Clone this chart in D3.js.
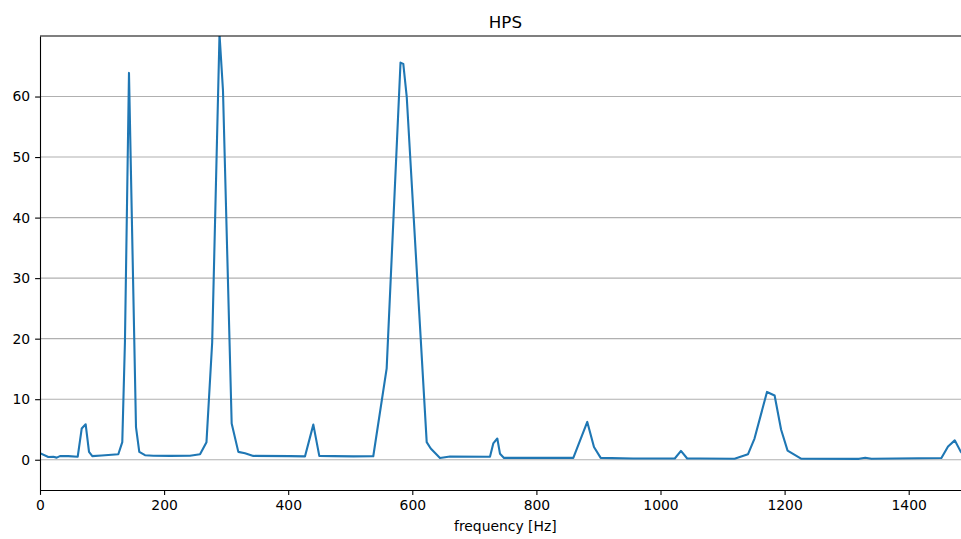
<!DOCTYPE html>
<html>
<head>
<meta charset="utf-8">
<script src="https://cdn.jsdelivr.net/npm/d3@7"></script>
<style>
  body { margin: 0; background: #fff; }
  svg { display: block; font-family: "DejaVu Sans", sans-serif; }
  .tick text { font-size: 13.9px; fill: #000; }
</style>
</head>
<body>
<div id="chart"></div>
<script>
// HPS curve
var freqs = [0, 13.4, 21.4, 26.9, 32.2, 45.6, 60.8, 67.2, 73.6, 79, 84.3, 99.4, 126.2, 132.6,
  136.9, 143.4, 154.7, 160, 169.2, 182.6, 209.5, 241.7, 257.9, 268.3, 277.5, 289.3, 294.9,
  308.9, 319.6, 330.4, 343.8, 402.9, 427, 440.5, 450.1, 472.7, 504.9, 537.1, 558.7, 581,
  585.5, 591, 623.2, 629.7, 644.6, 660.8, 725.2, 730.5, 737, 741.3, 747.8, 811, 859.5, 882,
  892.8, 903.6, 956, 1023, 1033, 1043, 1063.7, 1119.4, 1140.9, 1151.5, 1171.6, 1183.9,
  1194.3, 1204.8, 1226.5, 1320, 1330, 1340, 1452.7, 1463.4, 1474.2, 1484, 1492];
var hps = [1.1, 0.45, 0.5, 0.35, 0.6, 0.6, 0.5, 5.15, 5.85, 1.3, 0.6, 0.7, 0.9, 2.9,
  19.5, 63.9, 5.4, 1.3, 0.75, 0.65, 0.63, 0.65, 0.9, 2.9, 19.4, 70.3, 61,
  6.0, 1.3, 1.07, 0.63, 0.6, 0.55, 5.8, 0.63, 0.6, 0.55, 0.58, 15.1, 65.6,
  65.4, 60, 2.9, 1.85, 0.3, 0.53, 0.5, 2.7, 3.5, 1.0, 0.3, 0.3, 0.3, 6.25,
  2.1, 0.3, 0.2, 0.2, 1.45, 0.2, 0.2, 0.17, 0.9, 3.5, 11.2, 10.6,
  5.0, 1.5, 0.17, 0.15, 0.33, 0.15, 0.28, 2.2, 3.2, 1.3, 0.5];
var xTicks = [0, 200, 400, 600, 800, 1000, 1200, 1400];
var yTicks = [0, 10, 20, 30, 40, 50, 60];

var svgWidth = 961;
var svgHeight = 539;
var margin = { top: 36, right: 0, bottom: 49, left: 40 };
var width = 930.75;
var height = svgHeight - margin.top - margin.bottom;

var data = freqs.map(function(f, i) { return { f: f, v: hps[i] }; });

var svg = d3.select("#chart")
  .append("svg")
  .attr("width", svgWidth)
  .attr("height", svgHeight);

var chartGroup = svg.append("g")
  .attr("transform", `translate(${margin.left}, ${margin.top})`);

var xScale = d3.scaleLinear().domain([0, 1500]).range([0, width]);
var yScale = d3.scaleLinear().domain([-5, 70]).range([height, 0]);

svg.append("defs").append("clipPath").attr("id", "clip")
  .append("rect").attr("width", width).attr("height", height);

// horizontal grid
chartGroup.append("g")
  .selectAll("line")
  .data(yTicks)
  .enter()
  .append("line")
  .attr("x1", 0)
  .attr("x2", width)
  .attr("y1", d => yScale(d))
  .attr("y2", d => yScale(d))
  .attr("stroke", "#b0b0b0")
  .attr("stroke-width", 1.1);

// line
var line = d3.line().x(d => xScale(d.f)).y(d => yScale(d.v));
chartGroup.append("path")
  .datum(data)
  .attr("clip-path", "url(#clip)")
  .attr("fill", "none")
  .attr("stroke", "#1f77b4")
  .attr("stroke-width", 2.1)
  .attr("stroke-linejoin", "round")
  .attr("stroke-linecap", "square")
  .attr("d", line);

// axes
var bottomAxis = d3.axisBottom(xScale).tickValues(xTicks).tickFormat(d3.format("d"))
  .tickSize(4.9).tickSizeOuter(0).tickPadding(4.9);
var leftAxis = d3.axisLeft(yScale).tickValues(yTicks)
  .tickSize(4.9).tickSizeOuter(0).tickPadding(4.9);

var gx = chartGroup.append("g")
  .attr("transform", `translate(0, ${height})`)
  .call(bottomAxis);
var gy = chartGroup.append("g").call(leftAxis);

[gx, gy].forEach(function(g) {
  g.select(".domain").attr("stroke", "#000").attr("stroke-width", 1.1);
  g.selectAll(".tick line").attr("stroke", "#000").attr("stroke-width", 1.1);
  g.attr("font-family", null).attr("font-size", null);
});

// top spine
chartGroup.append("line")
  .attr("x1", 0).attr("x2", width)
  .attr("y1", 0).attr("y2", 0)
  .attr("stroke", "#000").attr("stroke-width", 1.1);

// title
svg.append("text")
  .attr("x", margin.left + width / 2)
  .attr("y", 27.5)
  .attr("text-anchor", "middle")
  .attr("font-size", "16.7px")
  .text("HPS");

// x axis label
svg.append("text")
  .attr("x", margin.left + width / 2)
  .attr("y", 531)
  .attr("text-anchor", "middle")
  .attr("font-size", "13.9px")
  .text("frequency [Hz]");
</script>
</body>
</html>
